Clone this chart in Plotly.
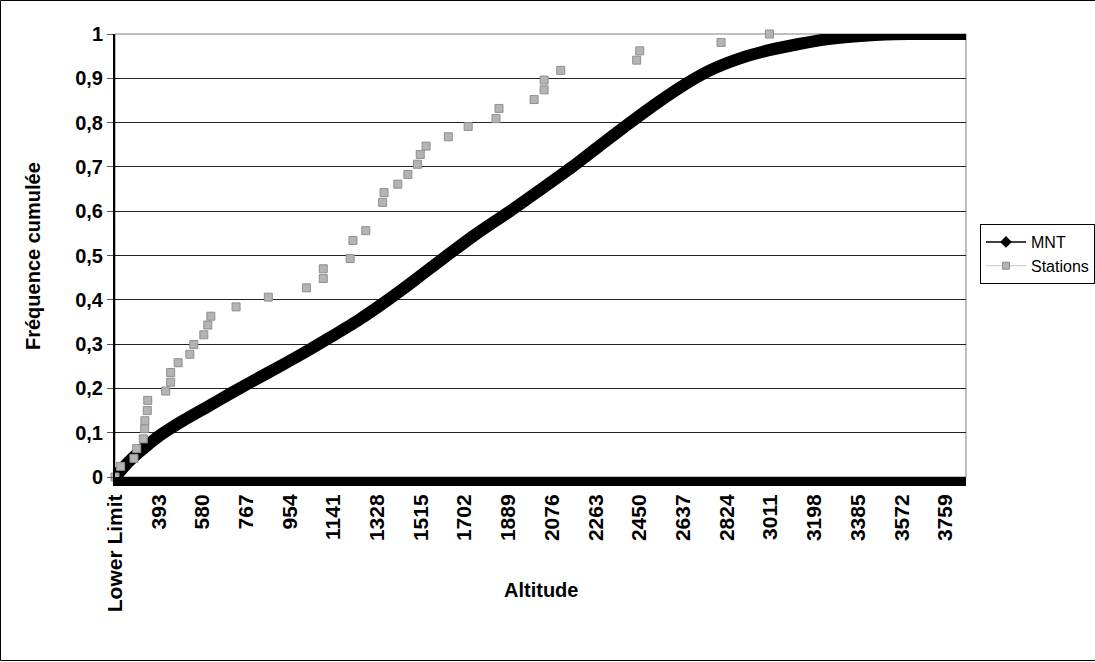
import plotly.graph_objects as go

# ---------------- data ----------------
x_tick_vals = [206, 393, 580, 767, 954, 1141, 1328, 1515, 1702, 1889, 2076, 2263,
               2450, 2637, 2824, 3011, 3198, 3385, 3572, 3759]
x_tick_text = ["Lower Limit", "393", "580", "767", "954", "1141", "1328", "1515", "1702",
               "1889", "2076", "2263", "2450", "2637", "2824", "3011", "3198", "3385",
               "3572", "3759"]
y_tick_vals = [0, 0.1, 0.2, 0.3, 0.4, 0.5, 0.6, 0.7, 0.8, 0.9, 1.0]
y_tick_text = ["0", "0,1", "0,2", "0,3", "0,4", "0,5", "0,6", "0,7", "0,8", "0,9", "1"]

mnt_alt = [206, 230, 260, 300, 350, 398, 450, 500, 600, 698, 800, 912, 1040, 1126,
           1250, 1361, 1490, 1609, 1750, 1896, 2030, 2162, 2290, 2410, 2530, 2650,
           2760, 2880, 3000, 3137, 3250, 3380, 3500, 3600, 3700, 3847]
mnt_freq = [0, 0.014, 0.032, 0.052, 0.074, 0.094, 0.112, 0.128, 0.158, 0.188, 0.218,
            0.25, 0.288, 0.315, 0.355, 0.395, 0.445, 0.493, 0.548, 0.6, 0.65, 0.7,
            0.752, 0.8, 0.846, 0.888, 0.92, 0.945, 0.963, 0.978, 0.988, 0.995, 0.999,
            1.0, 1.0, 1.0]

st_alt = [206, 230, 287, 299, 327, 333, 334, 344, 346, 423, 444, 444, 476, 526, 543,
          586, 603, 616, 724, 862, 1025, 1097, 1097, 1212, 1224, 1279, 1351, 1357,
          1416, 1459, 1500, 1512, 1537, 1632, 1717, 1836, 1849, 1999, 2042, 2042,
          2113, 2438, 2451, 2799, 3006]
st_freq = [0.0, 0.024, 0.042, 0.064, 0.086, 0.109, 0.127, 0.150, 0.173, 0.194, 0.214,
           0.236, 0.258, 0.277, 0.299, 0.321, 0.343, 0.363, 0.384, 0.406, 0.427, 0.448,
           0.470, 0.493, 0.534, 0.556, 0.620, 0.642, 0.661, 0.683, 0.706, 0.728, 0.747,
           0.768, 0.791, 0.809, 0.832, 0.852, 0.874, 0.896, 0.918, 0.941, 0.962, 0.981,
           1.0]

# ---------------- layout numbers ----------------
W, H = 1095, 662
PL, PR, PT, PB = 115, 966, 34, 477   # plot area in page pixels
ML, MT, MR, MB = PL, PT, W - PR, H - PB
PW, PH = PR - PL, PB - PT
FONT = "Liberation Sans, Arial, sans-serif"


def px_x(p):
    return (p - PL) / PW


def px_y(p):
    return (PB - p) / PH


fig = go.Figure()

# MNT data (thick band)
fig.add_trace(go.Scatter(
    x=mnt_alt, y=mnt_freq, mode="lines",
    line=dict(color="black", width=12, shape="spline", smoothing=0.8),
    showlegend=False, cliponaxis=False, hoverinfo="skip"))

# Stations
fig.add_trace(go.Scatter(
    x=st_alt, y=st_freq, mode="markers",
    marker=dict(symbol="square", size=8, color="#b4b4b4",
                line=dict(color="#8f8f8f", width=1)),
    showlegend=False, cliponaxis=False))

# legend entries
fig.add_trace(go.Scatter(
    x=[None], y=[None], mode="lines+markers", name="MNT",
    line=dict(color="black", width=1.5),
    marker=dict(symbol="diamond", size=9, color="black")))
fig.add_trace(go.Scatter(
    x=[None], y=[None], mode="lines+markers", name="Stations",
    line=dict(color="#c8c8c8", width=1),
    marker=dict(symbol="square", size=7, color="#b4b4b4",
                line=dict(color="#8f8f8f", width=1))))

shapes = [
    dict(type="rect", xref="paper", yref="paper", x0=0, x1=1, y0=0, y1=1,
         line=dict(color="#808080", width=1), layer="below"),
    dict(type="rect", xref="paper", yref="paper",
         x0=px_x(0.5), x1=px_x(1110), y0=px_y(660.5), y1=px_y(0.5),
         line=dict(color="black", width=1), layer="below"),
]

annotations = [
    dict(text="<b>Altitude</b>", xref="paper", yref="paper", x=0.5, y=px_y(590),
         xanchor="center", yanchor="middle", showarrow=False,
         font=dict(size=20, family=FONT, color="black")),
    dict(text="<b>Fréquence cumulée</b>", xref="paper", yref="paper", x=px_x(33),
         y=px_y(256), xanchor="center", yanchor="middle", showarrow=False, textangle=-90,
         font=dict(size=20, family=FONT, color="black")),
]

fig.update_layout(
    width=W, height=H,
    margin=dict(l=ML, r=MR, t=MT, b=MB, pad=0, autoexpand=False),
    paper_bgcolor="white", plot_bgcolor="white",
    font=dict(family=FONT, color="black"),
    shapes=shapes, annotations=annotations,
    showlegend=True,
    legend=dict(xref="container", yref="container", x=980 / W, y=1 - 224 / H,
                xanchor="left", yanchor="top",
                bordercolor="black", borderwidth=1, bgcolor="white",
                font=dict(size=16, family=FONT), tracegroupgap=0, itemwidth=40),
    xaxis=dict(
        range=[206, 3847], tickmode="array", tickvals=x_tick_vals, ticktext=x_tick_text,
        tickangle=-90, tickfont=dict(size=21, family=FONT, weight="bold"),
        showgrid=False, zeroline=False, showline=True, linecolor="black", linewidth=9,
        ticks=""),
    yaxis=dict(
        range=[0, 1], tickmode="array", tickvals=y_tick_vals, ticktext=y_tick_text,
        tickfont=dict(size=20, family=FONT, weight="bold"),
        showgrid=True, gridcolor="#222222", gridwidth=1, zeroline=False,
        showline=True, linecolor="black", linewidth=2,
        ticks="outside", ticklen=6, tickcolor="#555555"),
)

fig.write_html("out.html", config={"displayModeBar": False},
               post_script="document.body.style.margin='0';document.body.style.overflow='hidden';")
